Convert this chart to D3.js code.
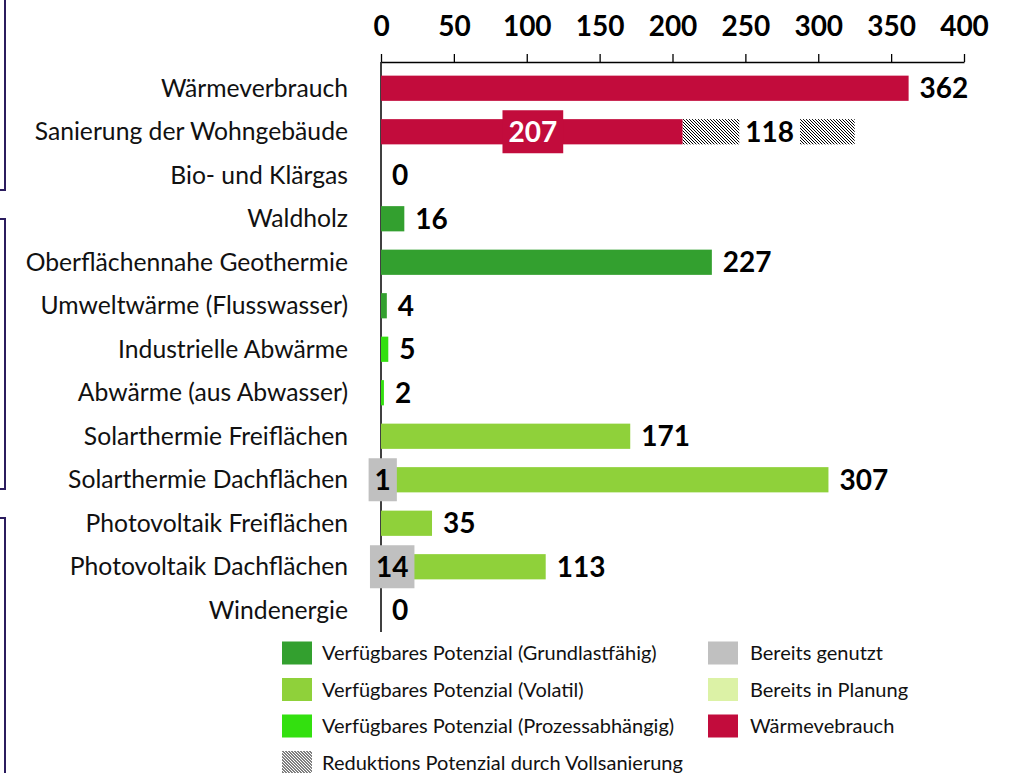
<!DOCTYPE html>
<html>
<head>
<meta charset="utf-8">
<script src="https://cdn.jsdelivr.net/npm/d3@7/dist/d3.min.js"></script>
<style>
  html, body { margin: 0; padding: 0; background: #ffffff; }
  svg { display: block; }
  text { font-family: Lato, "Open Sans", "DejaVu Sans", sans-serif; }
</style>
</head>
<body>
<svg id="chart" width="1015" height="773"></svg>
<script>
// Potenziale und Wärmebedarf (GWh/a)
const categories = [
  "Wärmeverbrauch",
  "Sanierung der Wohngebäude",
  "Bio- und Klärgas",
  "Waldholz",
  "Oberflächennahe Geothermie",
  "Umweltwärme (Flusswasser)",
  "Industrielle Abwärme",
  "Abwärme (aus Abwasser)",
  "Solarthermie Freiflächen",
  "Solarthermie Dachflächen",
  "Photovoltaik Freiflächen",
  "Photovoltaik Dachflächen",
  "Windenergie"
];

// Series values per category (null = not part of the series)
const waermeverbrauch = [362, 207, null, null, null, null, null, null, null, null, null, null, null];
const reduktion       = [null, 118, null, null, null, null, null, null, null, null, null, null, null];
const grundlast       = [null, null, 0, 16, 227, 4, null, null, null, null, null, null, null];
const prozess         = [null, null, null, null, null, null, 5, 2, null, null, null, null, null];
const volatil         = [null, null, null, null, null, null, null, null, 171, 307, 35, 113, 0];
const genutzt         = [null, null, null, null, null, null, null, null, null, 1, null, 14, null];

const xTicks = [0, 50, 100, 150, 200, 250, 300, 350, 400];

const legendLabels = [
  "Verfügbares Potenzial (Grundlastfähig)",
  "Verfügbares Potenzial (Volatil)",
  "Verfügbares Potenzial (Prozessabhängig)",
  "Reduktions Potenzial durch Vollsanierung",
  "Bereits genutzt",
  "Bereits in Planung",
  "Wärmevebrauch"
];

const colors = {
  grund: "#33a02f",
  volatil: "#8fd13a",
  prozess: "#33e00f",
  genutzt: "#c0c0c0",
  planung: "#dcf2a6",
  waerme: "#c20c3c",
  bracket: "#2b1c5e"
};

const svg = d3.select("#chart");

// hatch for the renovation reduction (pixel diagonal)
const defs = svg.append("defs");
const pat = defs.append("pattern")
  .attr("id", "hatch")
  .attr("patternUnits", "userSpaceOnUse")
  .attr("width", 3).attr("height", 3);
pat.append("rect").attr("width", 3).attr("height", 3).attr("fill", "#ffffff");
[0, 1, 2].forEach(k => {
  pat.append("rect").attr("x", k).attr("y", k).attr("width", 1).attr("height", 1)
    .attr("fill", "#000").attr("shape-rendering", "crispEdges");
});

const x = d3.scaleLinear().domain([0, 400]).range([381, 964]);
const y = d3.scaleBand().domain(categories).range([66.5, 632]).paddingInner(0.42).paddingOuter(0.21);
const bw = y.bandwidth();

// group brackets at the left edge
const brackets = [[-20, 190], [219, 489], [518, 800]];
svg.append("g").selectAll("path").data(brackets).join("path")
  .attr("d", d => `M-2,${d[0]} H5 V${d[1]} H-2`)
  .attr("fill", "none")
  .attr("stroke", colors.bracket)
  .attr("stroke-width", 2);

// top axis
const axis = d3.axisTop(x).tickValues(xTicks).tickSize(8).tickSizeOuter(0).tickPadding(18);
const gAxis = svg.append("g").attr("transform", "translate(0,62)").call(axis);
gAxis.select(".domain").attr("stroke", "#000").attr("stroke-width", 1.5);
gAxis.selectAll(".tick line").attr("stroke", "#000").attr("stroke-width", 1.3);
gAxis.selectAll(".tick text")
  .attr("font-family", "Lato, sans-serif")
  .attr("font-size", 28).attr("font-weight", "bold").attr("fill", "#000");

// vertical category axis
svg.append("line")
  .attr("x1", x(0)).attr("x2", x(0))
  .attr("y1", 62).attr("y2", 632)
  .attr("stroke", "#000").attr("stroke-width", 1.5);

// category labels
svg.append("g").selectAll("text").data(categories).join("text")
  .attr("x", 348)
  .attr("y", d => y(d) + bw / 2)
  .attr("dy", "0.35em")
  .attr("text-anchor", "end")
  .attr("font-size", 24.7)
  .attr("fill", "#111")
  .text(d => d);

// build bar records
const bars = [];
const labels = [];
categories.forEach((c, i) => {
  if (waermeverbrauch[i] != null) {
    bars.push({ c, x0: 0, x1: waermeverbrauch[i], fill: colors.waerme });
    if (reduktion[i] != null) {
      const s = waermeverbrauch[i];
      bars.push({ c, x0: s, x1: s + reduktion[i], fill: "url(#hatch)" });
      labels.push({ c, v: waermeverbrauch[i], mode: "inside", pos: waermeverbrauch[i] / 2, box: colors.waerme, color: "#fff" });
      labels.push({ c, v: reduktion[i], mode: "inside", pos: s + reduktion[i] / 2, box: "#fff", color: "#000" });
    } else {
      labels.push({ c, v: waermeverbrauch[i], mode: "end", pos: waermeverbrauch[i] });
    }
  }
  [[grundlast, colors.grund], [prozess, colors.prozess], [volatil, colors.volatil]].forEach(([arr, col]) => {
    if (arr[i] != null) {
      bars.push({ c, x0: 0, x1: arr[i], fill: col });
      labels.push({ c, v: arr[i], mode: "end", pos: arr[i] });
    }
  });
  if (genutzt[i] != null) {
    bars.push({ c, x0: 0, x1: genutzt[i], fill: colors.genutzt });
    labels.push({ c, v: genutzt[i], mode: "inside", pos: genutzt[i] / 2, box: colors.genutzt, color: "#000" });
  }
});

svg.append("g").selectAll("rect").data(bars).join("rect")
  .attr("x", d => x(d.x0))
  .attr("y", d => y(d.c))
  .attr("width", d => x(d.x1) - x(d.x0))
  .attr("height", bw)
  .attr("fill", d => d.fill);

// value labels
const gLab = svg.append("g");
labels.forEach(l => {
  const g = gLab.append("g");
  const cy = y(l.c) + bw / 2;
  const t = g.append("text")
    .attr("y", cy)
    .attr("dy", "0.36em")
    .attr("font-size", 28)
    .attr("font-weight", "bold")
    .attr("fill", l.color || "#000")
    .text(l.v);
  if (l.mode === "end") {
    t.attr("x", x(l.pos) + 11).attr("text-anchor", "start");
  } else {
    t.attr("x", x(l.pos) + 1).attr("text-anchor", "middle");
    const bb = t.node().getBBox();
    g.insert("rect", "text")
      .attr("x", bb.x - 6).attr("width", bb.width + 12)
      .attr("y", cy - 21.5).attr("height", 43)
      .attr("fill", l.box);
  }
});

// legend
const legendItems = [
  { label: legendLabels[0], fill: colors.grund, col: 0, row: 0 },
  { label: legendLabels[1], fill: colors.volatil, col: 0, row: 1 },
  { label: legendLabels[2], fill: colors.prozess, col: 0, row: 2 },
  { label: legendLabels[3], fill: "url(#hatch)", col: 0, row: 3 },
  { label: legendLabels[4], fill: colors.genutzt, col: 1, row: 0 },
  { label: legendLabels[5], fill: colors.planung, col: 1, row: 1 },
  { label: legendLabels[6], fill: colors.waerme, col: 1, row: 2 }
];
const colX = [282, 708];
const rowY = [653, 689.5, 726, 762.5];
const gLeg = svg.append("g").selectAll("g").data(legendItems).join("g")
  .attr("transform", d => `translate(${colX[d.col]},${rowY[d.row]})`);
gLeg.append("rect")
  .attr("x", 0).attr("y", -11.5).attr("width", 30).attr("height", 23)
  .attr("fill", d => d.fill);
gLeg.append("text")
  .attr("x", d => d.col === 0 ? 40 : 42)
  .attr("dy", "0.35em")
  .attr("font-size", 20)
  .attr("fill", "#111")
  .text(d => d.label);
</script>
</body>
</html>
